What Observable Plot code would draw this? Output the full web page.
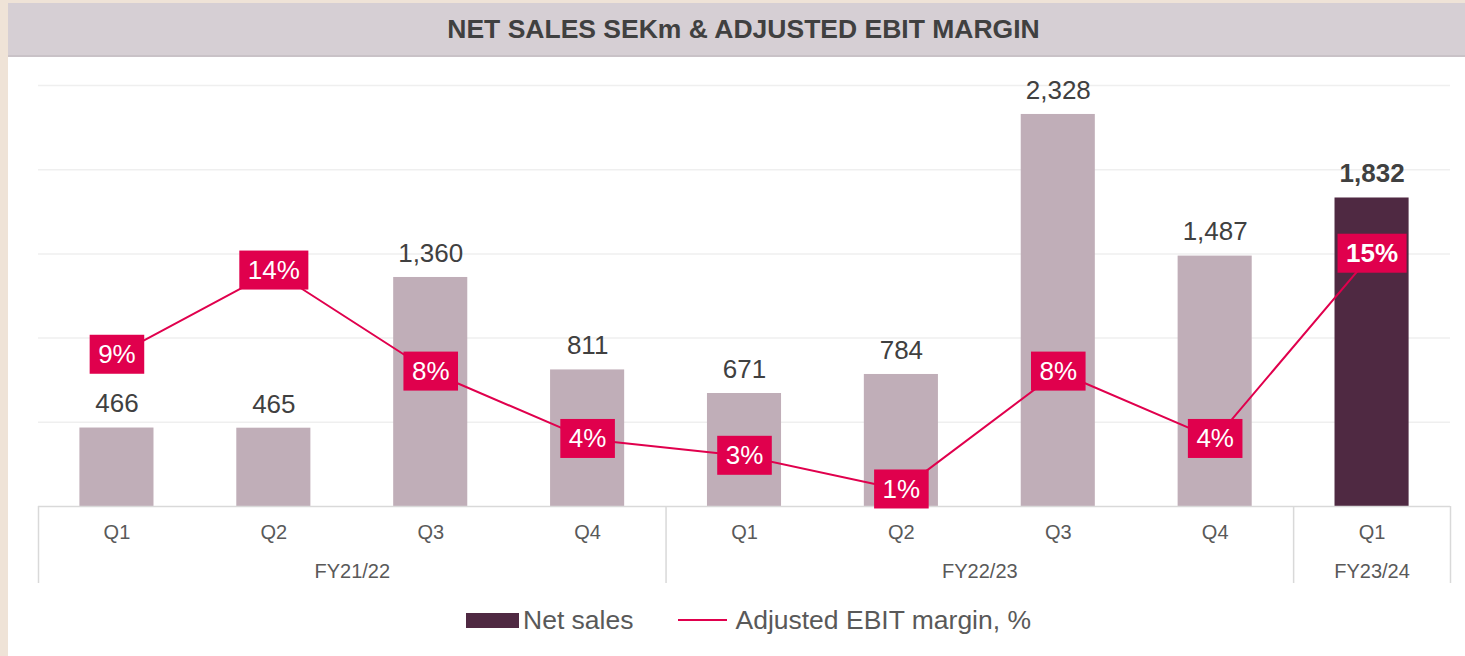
<!DOCTYPE html>
<html>
<head>
<meta charset="utf-8">
<script src="https://cdn.jsdelivr.net/npm/d3@7"></script>
<script src="https://cdn.jsdelivr.net/npm/@observablehq/plot@0.6"></script>
<style>
  html, body { margin: 0; padding: 0; }
  body { width: 1465px; height: 656px; background: #efe3d7; position: relative; overflow: hidden;
         font-family: "Liberation Sans", Arial, sans-serif; }
  #panel { position: absolute; left: 8px; top: 3px; width: 1457px; height: 653px; background: #ffffff; }
  #title { position: absolute; left: 8px; top: 3px; width: 1457px; height: 54px; box-sizing: border-box;
           background: #d6cfd4; border-bottom: 2px solid #c9c2c7; text-align: center; padding-left: 14px;
           font-weight: bold; font-size: 26.5px; line-height: 52px; color: #404040; }
  #chart { position: absolute; left: 0; top: 56px; }
  #legend { position: absolute; left: 466px; top: 603px; height: 34px; display: flex; align-items: center;
            font-size: 26.5px; color: #595959; }
  .sw-bar { width: 53px; height: 15px; background: #4f2942; margin-right: 4px; }
  .sw-line { width: 49px; height: 2px; background: #e0004d; margin-right: 8px; margin-left: 45px; }
</style>
</head>
<body>
<div id="panel"></div>
<div id="title">NET SALES SEKm &amp; ADJUSTED EBIT MARGIN</div>
<div id="chart"></div>
<div id="legend">
  <div class="sw-bar"></div><span>Net sales</span>
  <div class="sw-line"></div><span>Adjusted EBIT margin, %</span>
</div>
<script>
// ---- data ----
const quarters = ["Q1", "Q2", "Q3", "Q4", "Q1", "Q2", "Q3", "Q4", "Q1"];
const fiscalYears = ["FY21/22", "FY22/23", "FY23/24"];
const quartersPerYear = [4, 4, 1];
const netSales = [466, 465, 1360, 811, 671, 784, 2328, 1487, 1832];
const ebitMargin = [9, 14, 8, 4, 3, 1, 8, 4, 15];
const gridValues = [500, 1000, 1500, 2000, 2500];

// secondary axis: 1 percentage point = 100 SEKm on the shared y scale (25% <-> 2,500)
const pctUnit = 100;
const lastIdx = quarters.length - 1;

const rows = quarters.map((q, i) => ({
  i, xc: i + 0.5, q, sales: netSales[i], margin: ebitMargin[i], latest: i === lastIdx
}));

let start = 0;
const years = fiscalYears.map((fy, k) => {
  const s = start, e = start + quartersPerYear[k];
  start = e;
  return { fy, start: s, end: e, center: (s + e) / 2 };
});
const bounds = [0, ...years.map(y => y.end)];

const fmt = d3.format(",");
const crimson = "#e0004d";
const labelWhite = "#ffffff";

const W = 1465, H = 540;
const plot = Plot.plot({
  width: W, height: H,
  marginLeft: 38, marginRight: 15, marginTop: 29, marginBottom: 90,
  x: { type: "linear", domain: [0, quarters.length], axis: null },
  y: { domain: [0, 2500], axis: null },
  style: { fontFamily: "'Liberation Sans', Arial, sans-serif", background: "transparent", overflow: "visible" },
  marks: [
    Plot.ruleY(gridValues, { stroke: "#efefef", strokeWidth: 1.5 }),
    Plot.rectY(rows.filter(d => !d.latest), { x1: "i", x2: d => d.i + 1, y: "sales", insetLeft: 41.4, insetRight: 41.4, fill: "#c0aeb8" }),
    Plot.rectY(rows.filter(d => d.latest), { x1: "i", x2: d => d.i + 1, y: "sales", insetLeft: 41.4, insetRight: 41.4, fill: "#4f2942" }),
    Plot.ruleY([0], { stroke: "#d9d9d9", strokeWidth: 1.5 }),
    Plot.ruleX(bounds, { x: d => d, y1: 0, y2: 0, insetBottom: -77, stroke: "#d9d9d9", strokeWidth: 1.5 }),
    Plot.text(rows, { x: "xc", y: 0, text: "q", dy: 26, fontSize: 20, fill: "#595959" }),
    Plot.text(years, { x: "center", y: 0, text: "fy", dy: 65, fontSize: 20, fill: "#595959" }),
    Plot.text(rows.filter(d => !d.latest), { x: "xc", y: "sales", text: d => fmt(d.sales), dy: -24, fontSize: 26, fill: "#404040" }),
    Plot.text(rows.filter(d => d.latest), { x: "xc", y: "sales", text: d => fmt(d.sales), dy: -24, fontSize: 26, fontWeight: "bold", fill: "#404040" }),
    Plot.line(rows, { x: "xc", y: d => d.margin * pctUnit, stroke: crimson, strokeWidth: 2 }),
    Plot.text(rows.filter(d => !d.latest), { x: "xc", y: d => d.margin * pctUnit, text: d => d.margin + "%", fontSize: 26, fill: labelWhite }),
    Plot.text(rows.filter(d => d.latest), { x: "xc", y: d => d.margin * pctUnit, text: d => d.margin + "%", fontSize: 26, fontWeight: "bold", fill: labelWhite })
  ]
});

document.getElementById("chart").append(plot);

// crimson label boxes behind the margin labels, sized from the rendered text
const svgNS = "http://www.w3.org/2000/svg";
const marginTexts = Array.from(plot.querySelectorAll("text")).filter(t => {
  const own = t.getAttribute("fill");
  const parent = t.parentNode && t.parentNode.getAttribute && t.parentNode.getAttribute("fill");
  const f = (own || parent || "").toLowerCase();
  return f === labelWhite || f === "white";
});
marginTexts.forEach(t => {
  const b = t.getBBox();
  const w = b.width + 17, h = 39;
  const cx = b.x + b.width / 2, cy = b.y + b.height / 2;
  const r = document.createElementNS(svgNS, "rect");
  r.setAttribute("x", cx - w / 2);
  r.setAttribute("y", cy - h / 2);
  r.setAttribute("width", w);
  r.setAttribute("height", h);
  r.setAttribute("fill", crimson);
  const tr = t.getAttribute("transform");
  if (tr) r.setAttribute("transform", tr);
  t.parentNode.insertBefore(r, t);
});
</script>
</body>
</html>
